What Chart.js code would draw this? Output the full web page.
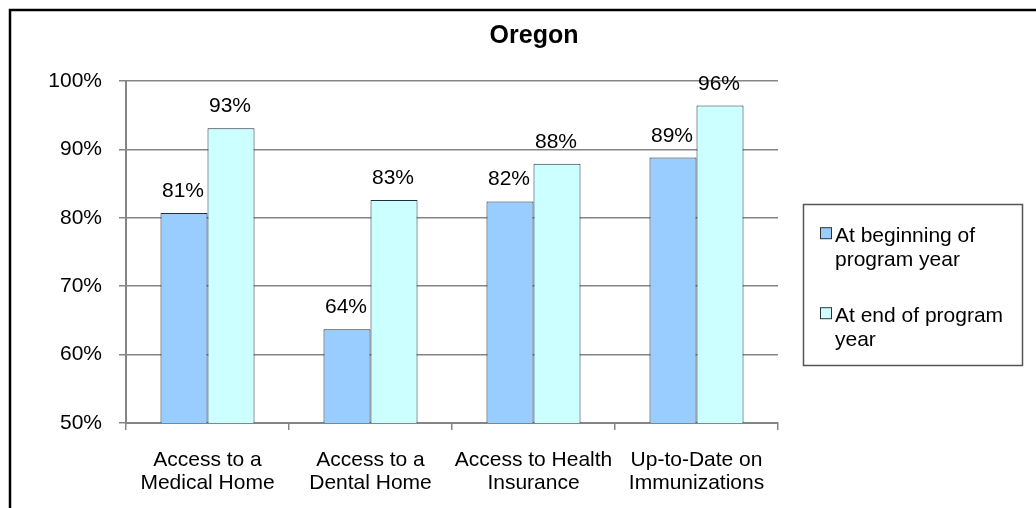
<!DOCTYPE html>
<html>
<head>
<meta charset="utf-8">
<title>Oregon</title>
<script src="https://cdn.jsdelivr.net/npm/chart.js@4.4.1/dist/chart.umd.min.js"></script>
<style>
    html, body { margin: 0; padding: 0; background: #ffffff; }
    #wrap { width: 1036px; height: 508px; }
</style>
</head>
<body>
<div id="wrap"><canvas id="oregonChart" width="1036" height="508"></canvas></div>
<script>
// data
const categories = [
    ["Access to a", "Medical Home"],
    ["Access to a", "Dental Home"],
    ["Access to Health", "Insurance"],
    ["Up-to-Date on", "Immunizations"]
];
const seriesNames = [
    ["At beginning of", "program year"],
    ["At end of program", "year"]
];
const beginValues = [80.7, 63.7, 82.4, 88.8];
const endValues = [93.1, 82.6, 87.9, 96.4];
const yTicks = [50, 60, 70, 80, 90, 100];
const chartTitle = "Oregon";

document.addEventListener("DOMContentLoaded", function () {
    const FONT = "'Liberation Sans', Arial, sans-serif";
    const gridGray = "#858585";

    // value labels above the bars
    const valueLabels = {
        id: "valueLabels",
        afterDatasetsDraw(chart) {
            const ctx = chart.ctx;
            ctx.save();
            ctx.font = "21px " + FONT;
            ctx.fillStyle = "#000";
            ctx.textAlign = "center";
            ctx.textBaseline = "alphabetic";
            chart.data.datasets.forEach(function (ds, i) {
                chart.getDatasetMeta(i).data.forEach(function (bar, j) {
                    ctx.fillText(Math.round(ds.data[j]) + "%", bar.x - 1, bar.y - 16);
                });
            });
            ctx.restore();
        }
    };

    // title, boxed legend and the page frame
    const frame = {
        id: "frame",
        afterDraw(chart) {
            const ctx = chart.ctx;
            ctx.save();

            ctx.strokeStyle = "#000";
            ctx.lineWidth = 2.5;
            ctx.beginPath();
            ctx.moveTo(10, 508);
            ctx.lineTo(10, 10);
            ctx.lineTo(1036, 10);
            ctx.stroke();

            ctx.font = "bold 25px " + FONT;
            ctx.fillStyle = "#000";
            ctx.textAlign = "center";
            ctx.fillText(chartTitle, 534, 43);

            ctx.strokeStyle = "#555";
            ctx.lineWidth = 1.5;
            ctx.strokeRect(803.5, 204.5, 219, 161);

            ctx.font = "21px " + FONT;
            ctx.textAlign = "left";
            const itemTops = [241.7, 321.7];
            chart.data.datasets.forEach(function (ds, i) {
                const base = itemTops[i];
                ctx.fillStyle = ds.backgroundColor;
                ctx.fillRect(820.5, base - 14, 11, 11);
                ctx.strokeStyle = "#333";
                ctx.lineWidth = 1;
                ctx.strokeRect(820.5, base - 14, 11, 11);
                ctx.fillStyle = "#000";
                ds.label.forEach(function (line, k) {
                    ctx.fillText(line, 835, base + k * 24);
                });
            });
            ctx.restore();
        }
    };

    const ctx = document.getElementById("oregonChart").getContext("2d");
    new Chart(ctx, {
        type: "bar",
        data: {
            labels: categories,
            datasets: [{
                label: seriesNames[0],
                data: beginValues,
                backgroundColor: "#99CCFF",
                borderColor: "#1f2f3f",
                borderWidth: 1
            }, {
                label: seriesNames[1],
                data: endValues,
                backgroundColor: "#CCFFFF",
                borderColor: "#1f2f3f",
                borderWidth: 1
            }]
        },
        options: {
            responsive: false,
            animation: false,
            layout: { padding: { top: 81, right: 258, left: 0, bottom: 0 } },
            datasets: { bar: { categoryPercentage: 0.577, barPercentage: 1 } },
            plugins: {
                legend: { display: false },
                title: { display: false },
                tooltip: { enabled: false }
            },
            scales: {
                x: {
                    afterFit(scale) { scale.height = 85; },
                    grid: {
                        drawOnChartArea: false,
                        drawTicks: true,
                        tickLength: 7,
                        color: gridGray,
                        lineWidth: 1.5,
                        offset: true
                    },
                    border: { display: true, color: gridGray, width: 2 },
                    ticks: {
                        color: "#000",
                        font: { family: FONT, size: 21, lineHeight: 1.13 },
                        padding: 18,
                        maxRotation: 0,
                        autoSkip: false
                    }
                },
                y: {
                    min: yTicks[0],
                    max: yTicks[yTicks.length - 1],
                    afterFit(scale) { scale.width = 126; },
                    afterBuildTicks(scale) {
                        scale.ticks = yTicks.map(function (v) { return { value: v }; });
                    },
                    grid: {
                        color: gridGray,
                        lineWidth: 1.5,
                        tickLength: 7
                    },
                    border: { display: true, color: gridGray, width: 2 },
                    ticks: {
                        color: "#000",
                        font: { family: FONT, size: 21 },
                        padding: 17,
                        callback: function (v) { return v + "%"; }
                    }
                }
            }
        },
        plugins: [valueLabels, frame]
    });
});
</script>
</body>
</html>
